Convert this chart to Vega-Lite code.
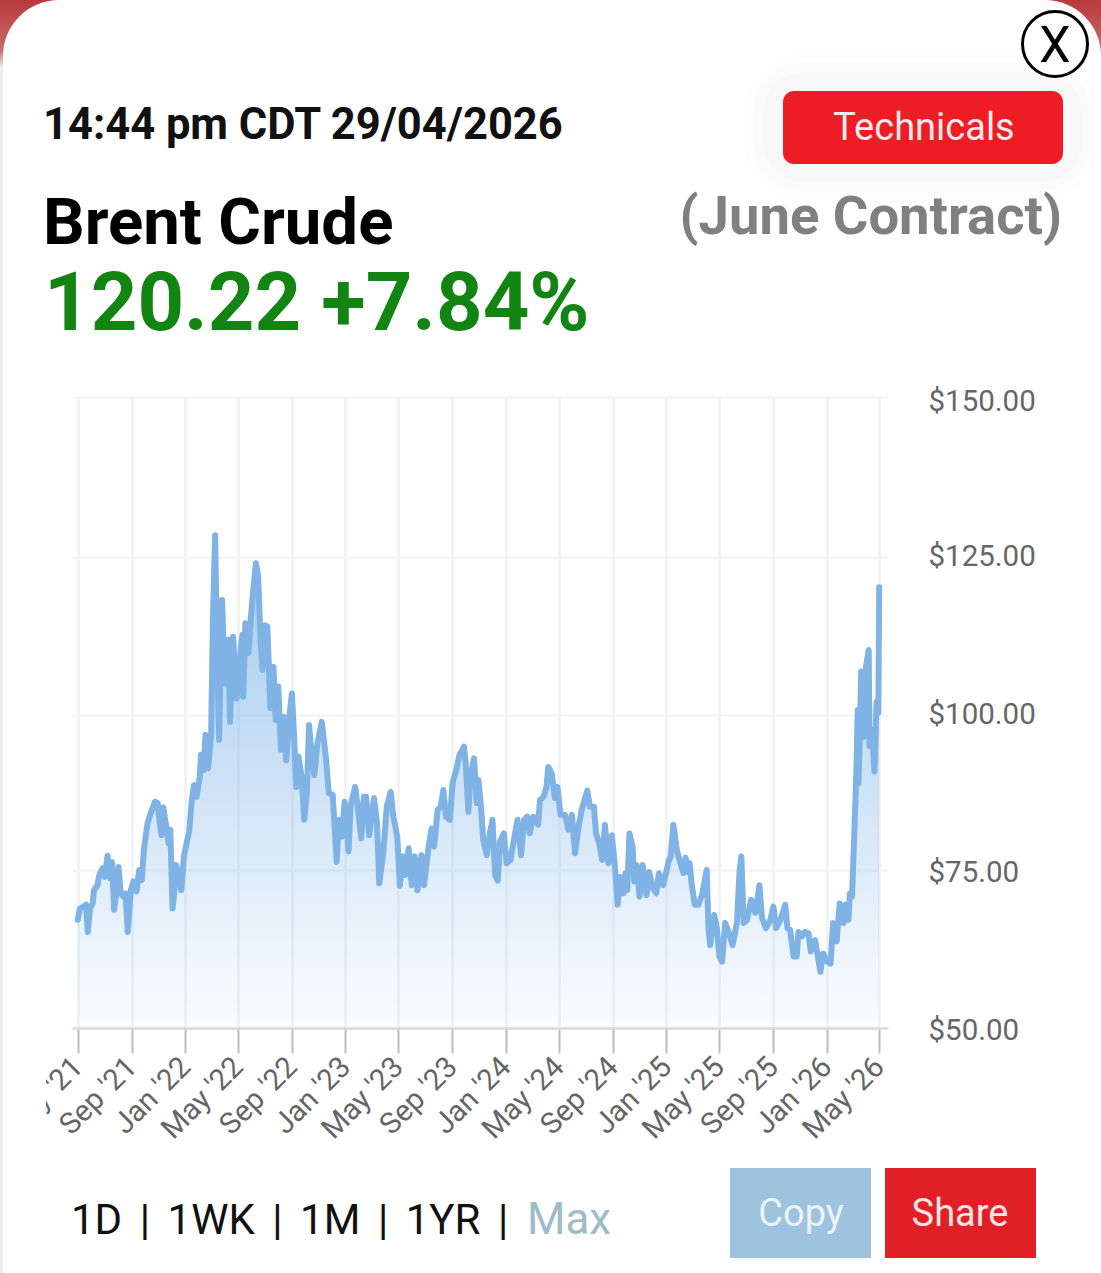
{
  "$schema": "https://vega.github.io/schema/vega-lite/v6.json",
  "width": 816,
  "height": 631,
  "autosize": "none",
  "padding": {"left": 72, "top": 397, "right": 213, "bottom": 245},
  "background": "#ffffff",
  "config": {"font": "Roboto", "view": {"stroke": null}},
  "datasets": {
    "brent": [
      {"date":"2021-05-01","price":67.1},{"date":"2021-05-06","price":68.9},{"date":"2021-05-14","price":69.2},{"date":"2021-05-20","price":69.5},{"date":"2021-05-24","price":65.2},{"date":"2021-05-29","price":68.9},{"date":"2021-06-04","price":69.7},{"date":"2021-06-07","price":71.8},{"date":"2021-06-15","price":72.6},{"date":"2021-06-19","price":74.2},{"date":"2021-06-27","price":75.3},{"date":"2021-07-02","price":73.9},{"date":"2021-07-08","price":77.3},{"date":"2021-07-14","price":73.7},{"date":"2021-07-18","price":76.3},{"date":"2021-07-23","price":68.7},{"date":"2021-07-27","price":70.8},{"date":"2021-08-02","price":75.5},{"date":"2021-08-07","price":71.3},{"date":"2021-08-13","price":70.8},{"date":"2021-08-18","price":71.3},{"date":"2021-08-23","price":65.2},{"date":"2021-08-30","price":71.8},{"date":"2021-09-05","price":73.2},{"date":"2021-09-12","price":71.6},{"date":"2021-09-18","price":75},{"date":"2021-09-24","price":73.4},{"date":"2021-09-29","price":78.5},{"date":"2021-10-07","price":82.5},{"date":"2021-10-14","price":84.1},{"date":"2021-10-24","price":86},{"date":"2021-10-30","price":85.8},{"date":"2021-11-03","price":83.1},{"date":"2021-11-08","price":80.6},{"date":"2021-11-12","price":85.1},{"date":"2021-11-18","price":82.3},{"date":"2021-11-24","price":79.3},{"date":"2021-11-28","price":81.5},{"date":"2021-12-03","price":68.9},{"date":"2021-12-07","price":71.3},{"date":"2021-12-11","price":75.8},{"date":"2021-12-17","price":74.5},{"date":"2021-12-23","price":71.8},{"date":"2021-12-29","price":77.2},
      {"date":"2022-01-04","price":79.3},{"date":"2022-01-10","price":81.2},{"date":"2022-01-16","price":86.3},{"date":"2022-01-21","price":88.7},{"date":"2022-01-27","price":86.8},{"date":"2022-02-03","price":90.1},{"date":"2022-02-06","price":93.6},{"date":"2022-02-12","price":91.1},{"date":"2022-02-16","price":96.8},{"date":"2022-02-22","price":91.4},{"date":"2022-03-01","price":97},{"date":"2022-03-05","price":115},{"date":"2022-03-10","price":128.4},{"date":"2022-03-14","price":112.4},{"date":"2022-03-19","price":96},{"date":"2022-03-26","price":118.2},{"date":"2022-04-01","price":105},{"date":"2022-04-09","price":111.9},{"date":"2022-04-13","price":98.9},{"date":"2022-04-20","price":112.4},{"date":"2022-04-28","price":102.6},{"date":"2022-05-05","price":108.7},{"date":"2022-05-11","price":112.7},{"date":"2022-05-13","price":102.9},{"date":"2022-05-18","price":114.5},{"date":"2022-05-25","price":109.8},{"date":"2022-05-30","price":115},{"date":"2022-06-05","price":119.8},{"date":"2022-06-11","price":124},{"date":"2022-06-16","price":122.1},{"date":"2022-06-22","price":111.3},{"date":"2022-06-26","price":107.1},{"date":"2022-07-01","price":114.2},{"date":"2022-07-07","price":114},{"date":"2022-07-14","price":101.1},{"date":"2022-07-21","price":107.6},{"date":"2022-07-26","price":99.2},{"date":"2022-08-01","price":104.5},{"date":"2022-08-07","price":94.4},{"date":"2022-08-15","price":99.7},{"date":"2022-08-19","price":92.7},{"date":"2022-08-27","price":100.3},{"date":"2022-09-01","price":103.4},{"date":"2022-09-06","price":96.5},{"date":"2022-09-11","price":88.4},{"date":"2022-09-16","price":93.3},{"date":"2022-09-24","price":89.5},{"date":"2022-09-29","price":83.1},{"date":"2022-10-05","price":87.4},{"date":"2022-10-10","price":98.4},{"date":"2022-10-16","price":93.8},{"date":"2022-10-22","price":90.3},{"date":"2022-10-29","price":95.4},{"date":"2022-11-08","price":98.9},{"date":"2022-11-12","price":96.5},{"date":"2022-11-18","price":92.7},{"date":"2022-11-24","price":87.4},{"date":"2022-12-03","price":87.1},{"date":"2022-12-12","price":76.3},{"date":"2022-12-17","price":83.1},{"date":"2022-12-24","price":80.4},{"date":"2022-12-30","price":86},
      {"date":"2023-01-08","price":78},{"date":"2023-01-13","price":85.5},{"date":"2023-01-23","price":88.4},{"date":"2023-01-28","price":85.8},{"date":"2023-02-06","price":80.1},{"date":"2023-02-12","price":86.8},{"date":"2023-02-17","price":86.8},{"date":"2023-02-24","price":80.6},{"date":"2023-03-07","price":86.6},{"date":"2023-03-14","price":82.5},{"date":"2023-03-19","price":72.9},{"date":"2023-03-28","price":77.7},{"date":"2023-04-05","price":85.2},{"date":"2023-04-14","price":87.6},{"date":"2023-04-20","price":83.6},{"date":"2023-04-29","price":80.4},{"date":"2023-05-05","price":72.5},{"date":"2023-05-11","price":77.2},{"date":"2023-05-17","price":74.2},{"date":"2023-05-25","price":78.5},{"date":"2023-06-01","price":72.6},{"date":"2023-06-08","price":77.2},{"date":"2023-06-14","price":71.8},{"date":"2023-06-23","price":77.4},{"date":"2023-06-29","price":72.6},{"date":"2023-07-09","price":78.5},{"date":"2023-07-16","price":81.7},{"date":"2023-07-22","price":78.8},{"date":"2023-07-30","price":84.7},{"date":"2023-08-06","price":85.2},{"date":"2023-08-12","price":87.9},{"date":"2023-08-18","price":83.6},{"date":"2023-08-27","price":83.1},{"date":"2023-09-02","price":89},{"date":"2023-09-10","price":91.1},{"date":"2023-09-18","price":93.6},{"date":"2023-09-28","price":94.9},{"date":"2023-10-02","price":92.2},{"date":"2023-10-08","price":84.4},{"date":"2023-10-13","price":90.1},{"date":"2023-10-21","price":93},{"date":"2023-10-27","price":85.8},{"date":"2023-10-31","price":89.5},{"date":"2023-11-06","price":85},{"date":"2023-11-11","price":79.8},{"date":"2023-11-19","price":77.4},{"date":"2023-11-26","price":80.9},{"date":"2023-12-02","price":83.1},{"date":"2023-12-08","price":74.2},{"date":"2023-12-14","price":73.3},{"date":"2023-12-19","price":79.6},{"date":"2023-12-28","price":80.9},
      {"date":"2024-01-03","price":76.1},{"date":"2024-01-12","price":76.6},{"date":"2024-01-17","price":78.8},{"date":"2024-01-28","price":83.1},{"date":"2024-02-05","price":77.4},{"date":"2024-02-12","price":83.1},{"date":"2024-02-19","price":83.6},{"date":"2024-02-25","price":80.9},{"date":"2024-03-04","price":83.6},{"date":"2024-03-15","price":82.3},{"date":"2024-03-19","price":86.3},{"date":"2024-03-27","price":86.8},{"date":"2024-04-03","price":88.4},{"date":"2024-04-07","price":91.6},{"date":"2024-04-15","price":90.6},{"date":"2024-04-22","price":86.6},{"date":"2024-04-28","price":88.4},{"date":"2024-05-05","price":83.9},{"date":"2024-05-15","price":83.9},{"date":"2024-05-23","price":81.5},{"date":"2024-05-31","price":83.9},{"date":"2024-06-07","price":77.7},{"date":"2024-06-15","price":82},{"date":"2024-06-22","price":84.7},{"date":"2024-07-05","price":87.8},{"date":"2024-07-11","price":85.2},{"date":"2024-07-20","price":85.2},{"date":"2024-07-25","price":80.9},{"date":"2024-08-01","price":79.3},{"date":"2024-08-08","price":76.6},{"date":"2024-08-14","price":82.3},{"date":"2024-08-22","price":76.1},{"date":"2024-08-30","price":80.6},{"date":"2024-09-06","price":75.5},{"date":"2024-09-12","price":69.5},{"date":"2024-09-18","price":73.9},{"date":"2024-09-25","price":71.3},{"date":"2024-09-30","price":74.5},{"date":"2024-10-04","price":71.8},{"date":"2024-10-09","price":80.9},{"date":"2024-10-16","price":78.8},{"date":"2024-10-20","price":73.2},{"date":"2024-10-25","price":75.8},{"date":"2024-11-01","price":70.8},{"date":"2024-11-08","price":75.8},{"date":"2024-11-17","price":71},{"date":"2024-11-23","price":74.7},{"date":"2024-11-30","price":72.4},{"date":"2024-12-09","price":71.3},{"date":"2024-12-15","price":74.5},{"date":"2024-12-25","price":72.6},
      {"date":"2025-01-06","price":76.3},{"date":"2025-01-11","price":77.2},{"date":"2025-01-17","price":82.3},{"date":"2025-01-25","price":78.2},{"date":"2025-02-02","price":76.1},{"date":"2025-02-09","price":74.5},{"date":"2025-02-14","price":77},{"date":"2025-02-18","price":74.7},{"date":"2025-02-23","price":76.1},{"date":"2025-02-28","price":72.6},{"date":"2025-03-07","price":69.5},{"date":"2025-03-15","price":69.5},{"date":"2025-03-23","price":71},{"date":"2025-04-03","price":75},{"date":"2025-04-07","price":65.8},{"date":"2025-04-11","price":63.1},{"date":"2025-04-20","price":67.9},{"date":"2025-04-26","price":65.8},{"date":"2025-05-02","price":61.3},{"date":"2025-05-08","price":60.5},{"date":"2025-05-15","price":66.6},{"date":"2025-05-23","price":65.2},{"date":"2025-06-01","price":63.1},{"date":"2025-06-11","price":66.8},{"date":"2025-06-17","price":75},{"date":"2025-06-21","price":77.2},{"date":"2025-06-26","price":66.6},{"date":"2025-07-04","price":67.1},{"date":"2025-07-13","price":70.3},{"date":"2025-07-23","price":68.2},{"date":"2025-08-01","price":72.6},{"date":"2025-08-07","price":67.4},{"date":"2025-08-16","price":65.8},{"date":"2025-08-26","price":67.1},{"date":"2025-09-02","price":69.2},{"date":"2025-09-08","price":65.8},{"date":"2025-09-18","price":67.1},{"date":"2025-09-29","price":69.5},{"date":"2025-10-04","price":65.8},{"date":"2025-10-10","price":65.5},{"date":"2025-10-18","price":61.3},{"date":"2025-10-25","price":61.3},{"date":"2025-10-29","price":65.2},{"date":"2025-11-06","price":64.5},{"date":"2025-11-13","price":65.2},{"date":"2025-11-21","price":65},{"date":"2025-11-26","price":62.1},{"date":"2025-12-06","price":63.9},{"date":"2025-12-18","price":58.9},{"date":"2025-12-24","price":61.8},
      {"date":"2026-01-02","price":60.5},{"date":"2026-01-10","price":60.2},{"date":"2026-01-16","price":66.6},{"date":"2026-01-24","price":63.7},{"date":"2026-01-31","price":69.7},{"date":"2026-02-09","price":66.6},{"date":"2026-02-13","price":69.5},{"date":"2026-02-20","price":67.1},{"date":"2026-02-23","price":71.3},{"date":"2026-02-28","price":70.8},{"date":"2026-03-05","price":80.4},{"date":"2026-03-10","price":91.1},{"date":"2026-03-13","price":100.8},{"date":"2026-03-15","price":89},{"date":"2026-03-21","price":106.9},{"date":"2026-03-27","price":96.5},{"date":"2026-04-01","price":107.6},{"date":"2026-04-07","price":110.3},{"date":"2026-04-09","price":95},{"date":"2026-04-15","price":97.6},{"date":"2026-04-20","price":90.9},{"date":"2026-04-25","price":102.1},{"date":"2026-04-29","price":100.3},{"date":"2026-05-01","price":120.22}
    ]
  },
  "layer": [
    {
      "data": {"values": [{"label": "left edge"}]},
      "mark": {"type": "rect", "x": -72, "x2": -69, "y": -397, "y2": 876, "fill": "#ededed"}
    },
    {
      "data": {"values": [{"label": "corner"}]},
      "mark": {"type": "rect", "x": -72, "x2": -14, "y": -397, "y2": -330, "fill": {"gradient": "linear", "x1": 0, "y1": 0, "x2": 0, "y2": 1, "stops": [{"offset": 0, "color": "#b83a3c"}, {"offset": 0.75, "color": "#c96a6a"}, {"offset": 1, "color": "#ededed"}]}}
    },
    {
      "data": {"values": [{"label": "corner"}]},
      "mark": {"type": "rect", "x": 971, "x2": 1029, "y": -397, "y2": -330, "fill": {"gradient": "linear", "x1": 0, "y1": 0, "x2": 0, "y2": 1, "stops": [{"offset": 0, "color": "#b83a3c"}, {"offset": 0.75, "color": "#c96a6a"}, {"offset": 1, "color": "#ffffff"}]}}
    },
    {
      "data": {"values": [{"label": "card"}]},
      "mark": {"type": "rect", "x": -69, "x2": 1029, "y": -397, "y2": -280, "fill": "#ffffff", "cornerRadiusTopLeft": 56, "cornerRadiusTopRight": 56}
    },
    {
      "data": {"values": [{"label": "shadow"}]},
      "mark": {"type": "rect", "x": 671, "x2": 1026, "y": -345, "y2": -195, "fill": "#000000", "opacity": 0.006, "cornerRadius": 60}
    },
    {
      "data": {"values": [{"label": "shadow"}]},
      "mark": {"type": "rect", "x": 681, "x2": 1018, "y": -335, "y2": -205, "fill": "#000000", "opacity": 0.008, "cornerRadius": 50}
    },
    {
      "data": {"values": [{"label": "shadow"}]},
      "mark": {"type": "rect", "x": 691, "x2": 1010, "y": -325, "y2": -215, "fill": "#000000", "opacity": 0.012, "cornerRadius": 40}
    },
    {
      "data": {"name": "brent"},
      "mark": {"type": "area", "clip": false, "fill": {"gradient": "linear", "x1": 0, "y1": 0, "x2": 0, "y2": 1, "stops": [{"offset": 0, "color": "rgba(124,179,232,0.72)"}, {"offset": 1, "color": "rgba(124,179,232,0.03)"}]}},
      "encoding": {
        "x": {
          "field": "date",
          "type": "temporal",
          "title": null,
          "scale": {"domain": ["2021-04-18", "2026-05-21"]},
          "axis": {
            "values": ["2021-05-01", "2021-09-01", "2022-01-01", "2022-05-01", "2022-09-01", "2023-01-01", "2023-05-01", "2023-09-01", "2024-01-01", "2024-05-01", "2024-09-01", "2025-01-01", "2025-05-01", "2025-09-01", "2026-01-01", "2026-05-01"],
            "format": "%b '%y",
            "labelAngle": -45,
            "labelAlign": "right",
            "labelBaseline": "middle",
            "labelFontSize": 29.5,
            "labelColor": "#666666",
            "labelPadding": 9,
            "labelBound": false,
            "labelFlush": false,
            "labelOverlap": false,
            "tickSize": 25,
            "tickWidth": 2,
            "tickColor": "#bdbdbd",
            "domainColor": "#d5dde8",
            "domainWidth": 2.5,
            "gridColor": "#f0f1f5",
            "gridWidth": 2.5
          }
        },
        "y": {
          "field": "price",
          "type": "quantitative",
          "title": null,
          "scale": {"domain": [50, 75, 100, 125, 150], "range": [631, 473, 318, 160, 0]},
          "axis": {
            "orient": "right",
            "values": [50, 75, 100, 125, 150],
            "format": "$.2f",
            "labelFontSize": 29.5,
            "labelColor": "#666666",
            "labelPadding": 40,
            "labelOffset": {"condition": [{"test": "datum.value === 150", "value": 4}, {"test": "datum.value === 125 || datum.value === 100", "value": -1}], "value": 2},
            "labelBound": false,
            "labelFlush": false,
            "ticks": false,
            "domain": false,
            "gridColor": "#f3f4f7",
            "gridWidth": 2.5
          }
        },
        "y2": {"datum": 50}
      }
    },
    {
      "data": {"name": "brent"},
      "mark": {"type": "line", "stroke": "#7fb3e6", "strokeWidth": 6, "strokeJoin": "round", "strokeCap": "round", "clip": false},
      "encoding": {
        "x": {"field": "date", "type": "temporal"},
        "y": {"field": "price", "type": "quantitative"}
      }
    },
    {
      "data": {"values": [{"label": "cover"}]},
      "mark": {"type": "rect", "x": -69, "x2": -26, "y": 640, "y2": 770, "fill": "#ffffff"}
    },
    {
      "data": {"values": [{"label": "14:44 pm CDT 29/04/2026"}]},
      "mark": {"type": "text", "x": -29, "y": -258, "align": "left", "baseline": "alphabetic", "font": "Roboto", "fontWeight": "bold", "fontSize": 43.5, "fill": "#111111"},
      "encoding": {"text": {"field": "label"}}
    },
    {
      "data": {"values": [{"label": "Brent Crude"}]},
      "mark": {"type": "text", "x": -29, "y": -153, "align": "left", "baseline": "alphabetic", "font": "Roboto", "fontWeight": "bold", "fontSize": 65.3, "fill": "#000000"},
      "encoding": {"text": {"field": "label"}}
    },
    {
      "data": {"values": [{"label": "120.22 +7.84%"}]},
      "mark": {"type": "text", "x": -28, "y": -67, "align": "left", "baseline": "alphabetic", "font": "Roboto", "fontWeight": "bold", "fontSize": 81.4, "fill": "#128412"},
      "encoding": {"text": {"field": "label"}}
    },
    {
      "data": {"values": [{"label": "(June Contract)"}]},
      "mark": {"type": "text", "x": 990, "y": -163, "align": "right", "baseline": "alphabetic", "font": "Roboto", "fontWeight": "bold", "fontSize": 54.4, "fill": "#808080"},
      "encoding": {"text": {"field": "label"}}
    },
    {
      "data": {"values": [{"label": "Technicals"}]},
      "mark": {"type": "rect", "x": 711, "x2": 991, "y": -306, "y2": -233, "fill": "#ee1c25", "cornerRadius": 11}
    },
    {
      "data": {"values": [{"label": "Technicals"}]},
      "mark": {"type": "text", "x": 852, "y": -257, "align": "center", "baseline": "alphabetic", "font": "Roboto", "fontSize": 38, "fill": "#fdeaea"},
      "encoding": {"text": {"field": "label"}}
    },
    {
      "data": {"values": [{"label": "close"}]},
      "mark": {"type": "point", "shape": "circle", "x": 983, "y": -353, "size": 4230, "fill": "#ffffff", "stroke": "#000000", "strokeWidth": 3, "opacity": 1}
    },
    {
      "data": {"values": [{"label": "X"}]},
      "mark": {"type": "text", "x": 983, "y": -335, "align": "center", "baseline": "alphabetic", "font": "Roboto", "fontSize": 50, "fill": "#000000"},
      "encoding": {"text": {"field": "label"}}
    },
    {
      "data": {"values": [{"label": "1D\u00a0\u2006|\u00a0\u20061WK\u00a0\u2006|\u00a0\u20061M\u00a0\u2006|\u00a0\u20061YR\u00a0\u2006|"}]},
      "mark": {"type": "text", "x": -1, "y": 837, "align": "left", "baseline": "alphabetic", "font": "Roboto", "fontSize": 42, "fill": "#111111"},
      "encoding": {"text": {"field": "label"}}
    },
    {
      "data": {"values": [{"label": "Max"}]},
      "mark": {"type": "text", "x": 455, "y": 837, "align": "left", "baseline": "alphabetic", "font": "Roboto", "fontSize": 44, "fill": "#9dbcc5"},
      "encoding": {"text": {"field": "label"}}
    },
    {
      "data": {"values": [{"label": "Copy"}]},
      "mark": {"type": "rect", "x": 658, "x2": 799, "y": 771, "y2": 861, "fill": "#9ec3de"}
    },
    {
      "data": {"values": [{"label": "Copy"}]},
      "mark": {"type": "text", "x": 729, "y": 829, "align": "center", "baseline": "alphabetic", "font": "Roboto", "fontSize": 38, "fill": "#eaf3f8"},
      "encoding": {"text": {"field": "label"}}
    },
    {
      "data": {"values": [{"label": "Share"}]},
      "mark": {"type": "rect", "x": 813, "x2": 964, "y": 771, "y2": 861, "fill": "#e01f26"}
    },
    {
      "data": {"values": [{"label": "Share"}]},
      "mark": {"type": "text", "x": 888, "y": 829, "align": "center", "baseline": "alphabetic", "font": "Roboto", "fontSize": 38, "fill": "#fbe4e4"},
      "encoding": {"text": {"field": "label"}}
    }
  ]
}
